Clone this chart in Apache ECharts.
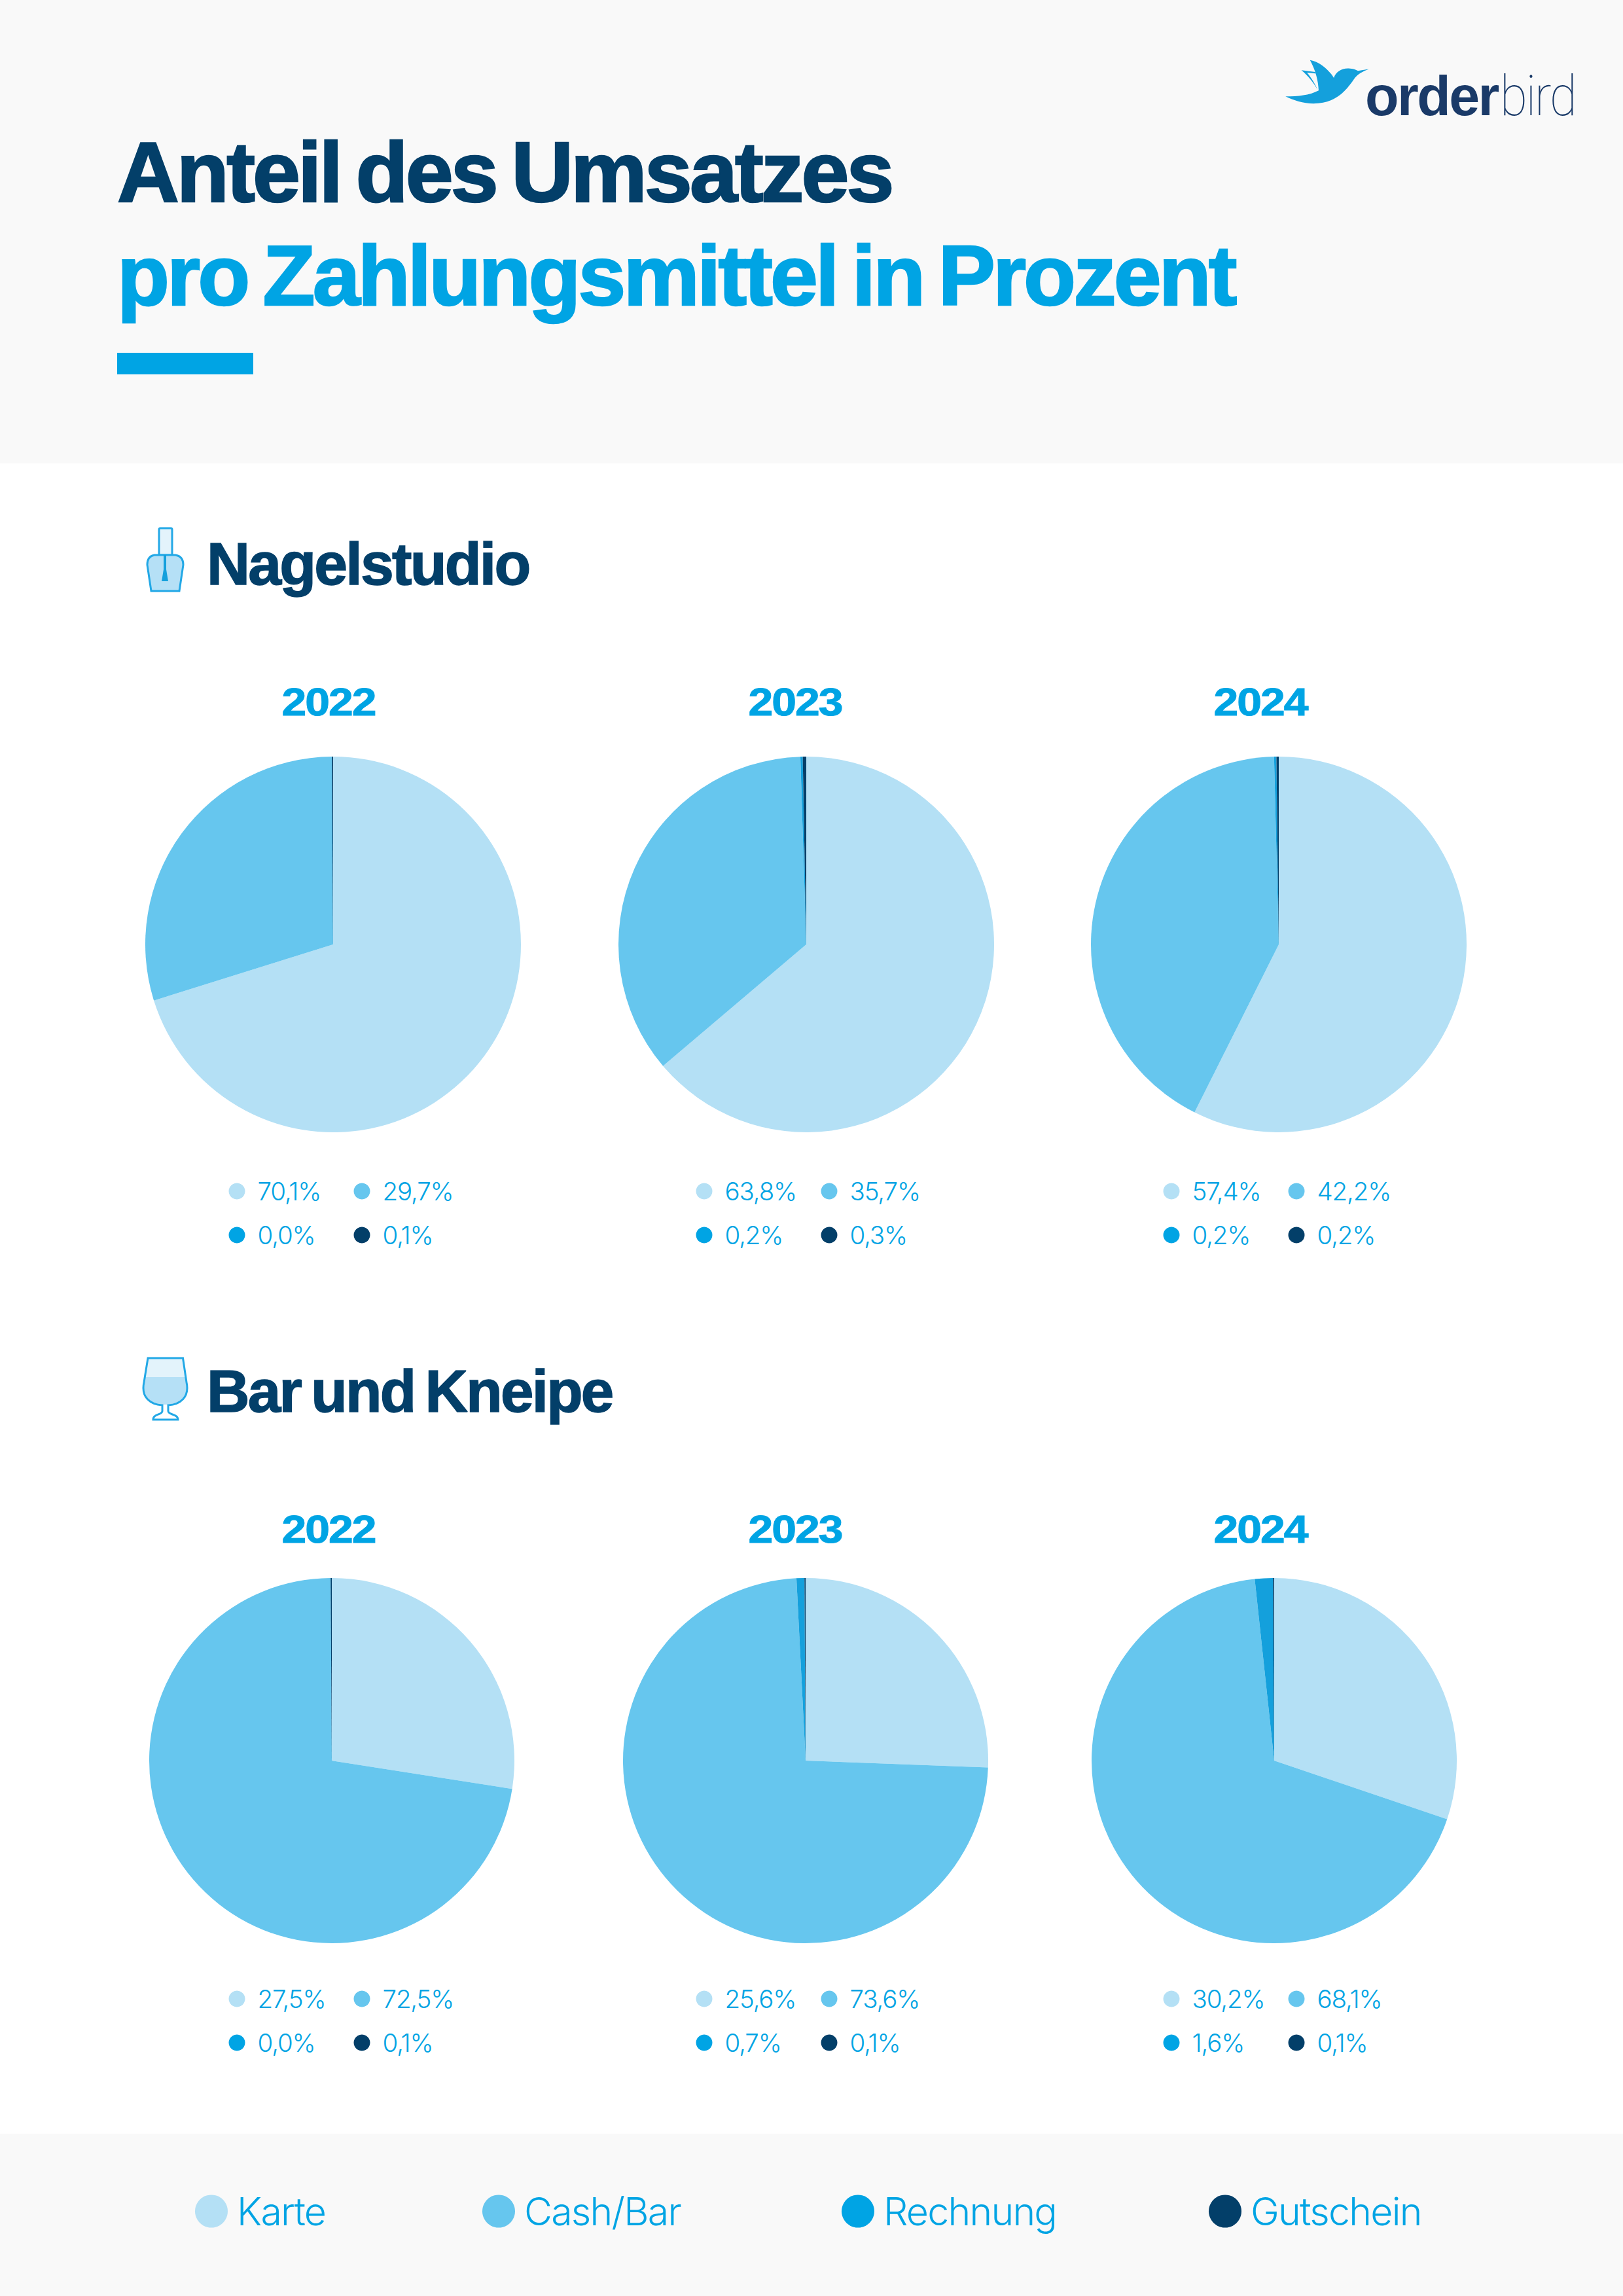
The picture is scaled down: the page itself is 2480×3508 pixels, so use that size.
<!DOCTYPE html>
<html><head><meta charset="utf-8">
<style>
html,body{margin:0;padding:0;background:#fff}
#c{width:2480px;height:3508px}
svg text{letter-spacing:-0.03em;word-spacing:-0.07em}
</style>
<script src="https://cdn.jsdelivr.net/npm/echarts@6/dist/echarts.min.js"></script>
</head><body><div id="c"></div>
<script>
// ---- data ----
const paymentTypes = ['Karte','Cash/Bar','Rechnung','Gutschein'];
const years = ['2022','2023','2024'];
const sectionNames = ['Nagelstudio','Bar und Kneipe'];
const nagelstudio2022 = [70.1,29.7,0.0,0.1];
const nagelstudio2023 = [63.8,35.7,0.2,0.3];
const nagelstudio2024 = [57.4,42.2,0.2,0.2];
const bar2022 = [27.5,72.5,0.0,0.1];
const bar2023 = [25.6,73.6,0.7,0.1];
const bar2024 = [30.2,68.1,1.6,0.1];
const titleLine1 = 'Anteil des Umsatzes';
const titleLine2 = 'pro Zahlungsmittel in Prozent';

// ---- styling / layout ----
const pieColors = ['#b4e0f5','#66c6ee','#14a0dc','#033f69'];
const legendColors = ['#b4e0f5','#66c6ee','#00a4e4','#033f69'];
const NAVY='#033f69', BLUE='#00a4e4', BG='#f9f9f9';
const BOLD='"Liberation Sans"', LIGHT='Inter';
const pies = [
 {v:nagelstudio2022,c:[509,1443],r:287,lx:362,ly:1819,yx:502,yb:1093},
 {v:nagelstudio2023,c:[1232,1443],r:287,lx:1076,ly:1819,yx:1215,yb:1093},
 {v:nagelstudio2024,c:[1954,1443],r:287,lx:1790,ly:1819,yx:1926,yb:1093},
 {v:bar2022,c:[507,2690],r:279,lx:362,ly:3053,yx:502,yb:2357},
 {v:bar2023,c:[1231,2690],r:279,lx:1076,ly:3053,yx:1215,yb:2357},
 {v:bar2024,c:[1947,2690],r:279,lx:1790,ly:3053,yx:1926,yb:2357}
];
const miniDX=[0,191,0,191], miniDY=[0,0,67,67];
const footerX=[323,762,1311,1872], footerY=3380;
const fmt=v=>v.toFixed(1).replace('.',',')+'%';

let shapeCount=0;
function pathEl(d,style,extra){
  const name='svgShape'+(shapeCount++);
  echarts.graphic.registerShape(name,echarts.graphic.extendPath(d,{}));
  return Object.assign({type:name,silent:true,style:style},extra||{});
}
function txt(t,x,base,size,weight,color,family,sx,align,bolden){
  return {type:'text',x:x,y:base-size*0.36,scaleX:sx||1,z:10,silent:true,
    style:{text:t,x:0,y:0,fill:color,textAlign:align||'left',textVerticalAlign:'middle',
      stroke:bolden?color:null,lineWidth:bolden||0,
      font:(weight||'normal')+' '+size+'px '+family}};
}
const series = pies.map(p=>({
  type:'pie',center:p.c,radius:[0,p.r],startAngle:90,clockwise:true,animation:false,silent:true,
  label:{show:false},labelLine:{show:false},stillShowZeroSum:true,
  itemStyle:{borderWidth:0},
  data:paymentTypes.map((n,i)=>({name:n,value:p.v[i],itemStyle:{color:pieColors[i]}}))
}));
const legends=[];
pies.forEach(p=>{
  paymentTypes.forEach((n,i)=>{
    legends.push({data:[n],left:p.lx+miniDX[i]-12.5-5,top:p.ly+miniDY[i]-12.5-5-6,orient:'horizontal',
      icon:'circle',itemWidth:25,itemHeight:25,selectedMode:false,
      itemStyle:{color:legendColors[i]},formatter:()=>fmt(p.v[i]),
      textStyle:{color:BLUE,fontFamily:LIGHT,fontWeight:300,fontSize:38.5,padding:[0,0,0,14]}});
  });
});
paymentTypes.forEach((n,i)=>{
  legends.push({data:[n],left:footerX[i]-25-5,top:footerY-25-5-6,icon:'circle',itemWidth:50,itemHeight:50,
    selectedMode:false,itemStyle:{color:legendColors[i]},
    textStyle:{color:BLUE,fontFamily:LIGHT,fontWeight:300,fontSize:59,padding:[0,0,0,9]}});
});

const ICON='#22a8e6';
const graphics=[
 {type:'rect',z:-5,silent:true,shape:{x:0,y:0,width:2480,height:708},style:{fill:BG}},
 {type:'rect',z:-5,silent:true,shape:{x:0,y:3260,width:2480,height:248},style:{fill:BG}},
 {type:'rect',silent:true,shape:{x:179,y:539,width:208,height:33},style:{fill:BLUE}},
 txt(titleLine1,179,310,130,'bold',NAVY,BOLD,1.01,'left',2.5),
 txt(titleLine2,179,468,130,'bold',BLUE,BOLD,1.008,'left',2.5),
 txt(sectionNames[0],316,894,90,'bold',NAVY,BOLD,1.015,'left',1.5),
 txt(sectionNames[1],316,2158,90,'bold',NAVY,BOLD,1.008,'left',1.5),
 // logo
 {type:'group',x:1900,y:50,scaleX:1/2.8,scaleY:1/3,silent:true,children:[
  pathEl('M180,292 C235,292 280,288 322,265 C320,220 310,175 285,125 C330,135 365,170 387,207 C395,180 420,163 450,164 C470,165 480,170 490,175 L537,167 C510,178 490,190 475,210 C440,265 395,325 300,325 C255,325 215,310 180,292 Z',{fill:'#14a0dc'}),
  pathEl('M248,172 L307,180 L309,187 L272,183 C290,205 307,235 318,262 C300,230 275,195 248,172 Z',{fill:'#14a0dc'})
 ]},
 txt('order',2086,177,86,'bold','#1a3a68',BOLD,0.98),
 txt('bird',2292,177,86,'100','#1a3a68','Roboto',0.89),
 // nail polish icon
 {type:'group',silent:true,children:[
  pathEl('M243,848 L243,809 Q243,807 245,807 L261,807 Q263,807 263,809 L263,848 Z',{fill:'#e3f3fb',stroke:ICON,lineWidth:3}),
  pathEl('M236,848 L268,848 Q280,850 280,863 L274,903 L231,903 L225,863 Q225,850 236,848 Z',{fill:'#b5e0f6',stroke:ICON,lineWidth:3}),
  pathEl('M250,848 L254,848 L254,870 L257,888 L247,888 L250,870 Z',{fill:'#14a0dc'})
 ]},
 // glass icon
 {type:'group',silent:true,children:[
  pathEl('M226,2075 L279,2075 L285,2112 C290,2135 275,2146 252,2146 C230,2146 215,2135 220,2112 Z',{fill:'#e3f3fb'}),
  pathEl('M222,2104 L283,2104 L285,2112 C290,2135 275,2146 252,2146 C230,2146 215,2135 220,2112 Z',{fill:'#b5e0f6'}),
  pathEl('M226,2075 L279.5,2075 L285,2112 C290,2135 275,2146 257,2147 L257,2156 C257,2162 272,2160 272,2169 L234,2169 C234,2160 248,2162 248,2156 L248,2147 C230,2146 215,2135 220,2112 Z',{fill:'none',stroke:ICON,lineWidth:3})
 ]}
];
pies.forEach((p,i)=>graphics.push(txt(years[i%3],p.yx,p.yb,59,'bold',BLUE,BOLD,1.15,'center',1)));

const chart=echarts.init(document.getElementById('c'),null,{renderer:'svg',width:2480,height:3508});
chart.setOption({animation:false,backgroundColor:'#fff',legend:legends,series:series,graphic:{elements:graphics}});
</script></body></html>
